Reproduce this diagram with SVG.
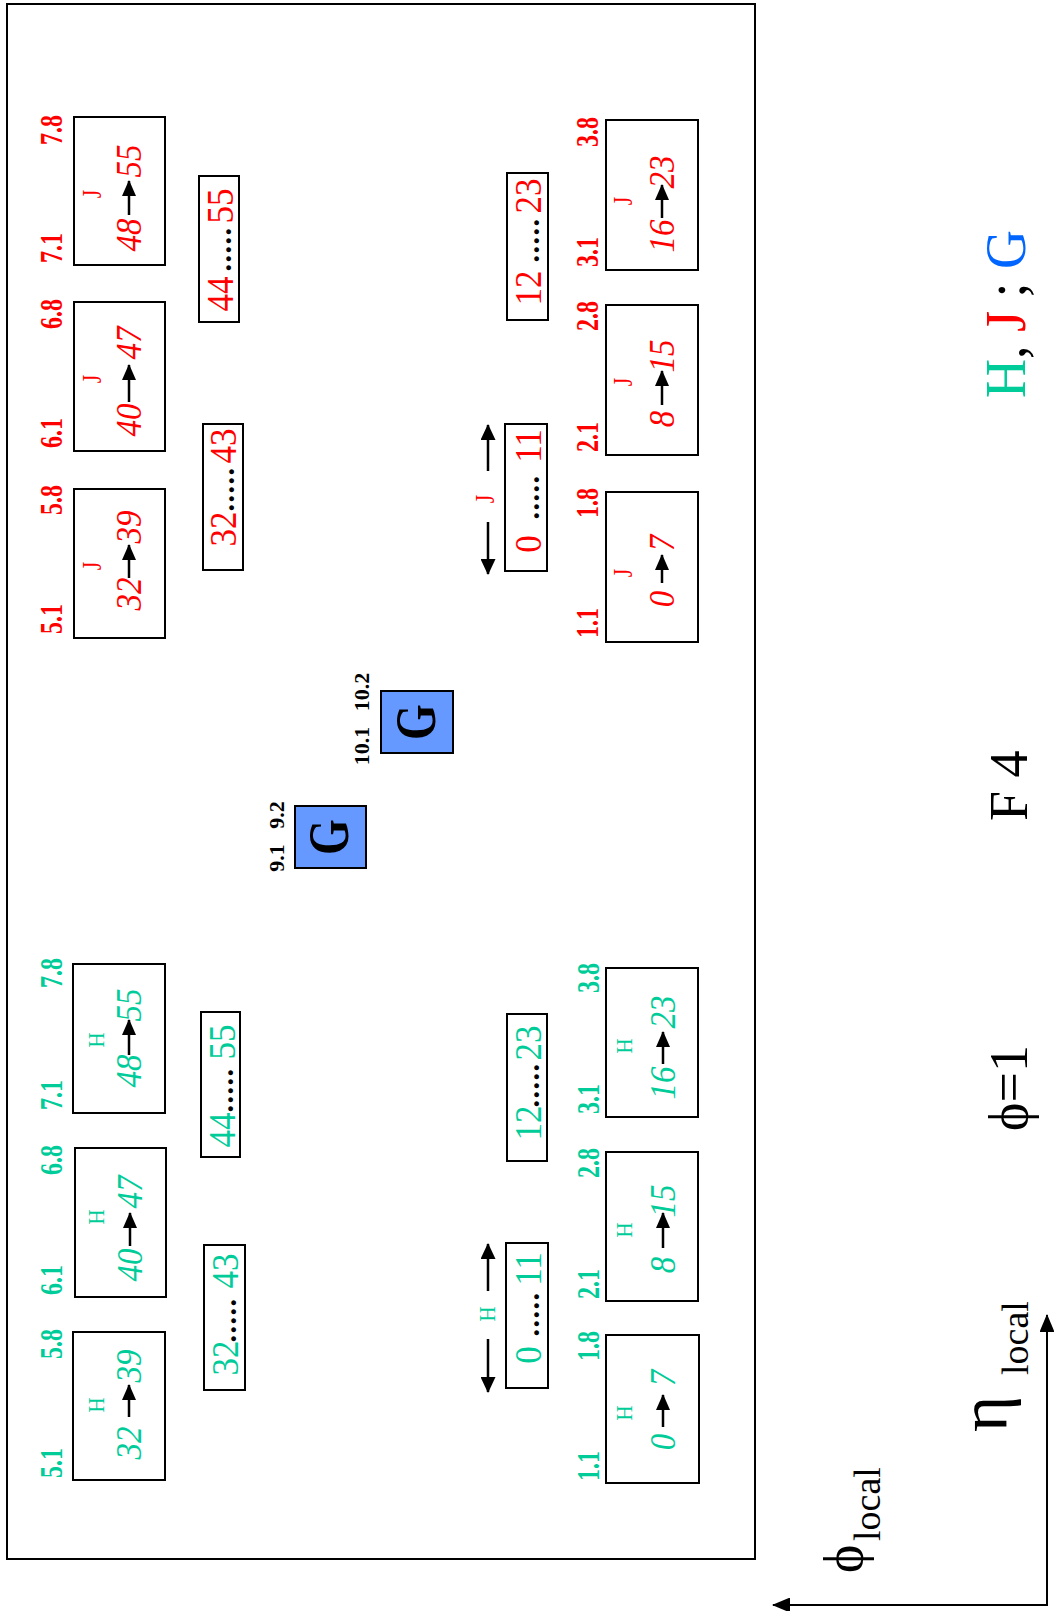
<svg xmlns="http://www.w3.org/2000/svg" width="1054" height="1611" viewBox="0 0 1054 1611">
<defs>
<style>
text { font-family: "Liberation Serif", "Times New Roman", serif; }
.r { fill: #ff0000; }
.g { fill: #00cc99; }
.k { fill: #000000; }
.lb { font-weight: bold; font-size: 24px; text-anchor: middle; }
.nm { font-style: italic; font-size: 33px; text-anchor: middle; }
.bg { font-size: 35px; text-anchor: middle; }
.dt { font-size: 30px; font-weight: bold; text-anchor: middle; fill: #000; letter-spacing: 1.5px; }
.tj { font-size: 22px; text-anchor: middle; }
.th { font-size: 21px; text-anchor: middle; }
.gl { font-size: 46px; font-weight: bold; text-anchor: middle; fill: #000; }
.gn { font-size: 22px; font-weight: bold; text-anchor: middle; fill: #000; }
.bx { fill: none; stroke: #000; stroke-width: 2; }
.gb { fill: #6699ff; stroke: #000; stroke-width: 2; }
.ar { stroke: #000; stroke-width: 2.5; fill: none; marker-end: url(#ah); }
.sa { stroke: #000; stroke-width: 2.5; fill: none; marker-end: url(#ah2); }
.ax { stroke: #000; stroke-width: 2; fill: none; marker-end: url(#ah3); }
.lg { font-size: 54px; }
</style>
<marker id="ah" markerUnits="userSpaceOnUse" markerWidth="16" markerHeight="14" refX="15" refY="7" orient="auto"><path d="M0,0 L16,7 L0,14 z" fill="#000"/></marker>
<marker id="ah2" markerUnits="userSpaceOnUse" markerWidth="16" markerHeight="15" refX="15" refY="7.5" orient="auto"><path d="M0,0 L16,7.5 L0,15 z" fill="#000"/></marker>
<marker id="ah3" markerUnits="userSpaceOnUse" markerWidth="18" markerHeight="15" refX="17" refY="7.5" orient="auto"><path d="M0,0 L18,7.5 L0,15 z" fill="#000"/></marker>
</defs>
<rect width="1054" height="1611" fill="#fff"/>
<rect id="frame" x="7" y="4" width="748" height="1555" class="bx"/>

<!-- Top-left J column -->
<g id="J48">
<rect x="74" y="117" width="91" height="148" class="bx"/>
<text class="lb r" transform="translate(62,130) rotate(-90) scale(1,1.3)">7.8</text>
<text class="lb r" transform="translate(62,248) rotate(-90) scale(1,1.3)">7.1</text>
<text class="tj r" transform="translate(101,194) rotate(-90) scale(1,1.2)">J</text>
<text class="nm r" transform="translate(141,235) rotate(-90) scale(1,1.1)">48</text>
<line x1="129" y1="215" x2="129" y2="181" class="ar"/>
<text class="nm r" transform="translate(141,161) rotate(-90) scale(1,1.1)">55</text>
</g>
<g id="J40">
<rect x="74" y="302" width="91" height="149" class="bx"/>
<text class="lb r" transform="translate(62,314) rotate(-90) scale(1,1.3)">6.8</text>
<text class="lb r" transform="translate(62,433) rotate(-90) scale(1,1.3)">6.1</text>
<text class="tj r" transform="translate(101,379) rotate(-90) scale(1,1.2)">J</text>
<text class="nm r" transform="translate(141,420) rotate(-90) scale(1,1.1)">40</text>
<line x1="129" y1="402" x2="129" y2="365" class="ar"/>
<text class="nm r" transform="translate(141,343) rotate(-90) scale(1,1.1)">47</text>
</g>
<g id="J32">
<rect x="74" y="489" width="91" height="149" class="bx"/>
<text class="lb r" transform="translate(62,500) rotate(-90) scale(1,1.3)">5.8</text>
<text class="lb r" transform="translate(62,619) rotate(-90) scale(1,1.3)">5.1</text>
<text class="tj r" transform="translate(101,566) rotate(-90) scale(1,1.2)">J</text>
<text class="nm r" transform="translate(141,594) rotate(-90) scale(1,1.1)">32</text>
<line x1="129" y1="578" x2="129" y2="545" class="ar"/>
<text class="nm r" transform="translate(141,527) rotate(-90) scale(1,1.1)">39</text>
</g>
<g id="J44-55">
<rect x="199" y="176" width="40" height="146" class="bx"/>
<text class="bg r" transform="translate(233,294) rotate(-90) scale(1,1.1)">44</text>
<text class="dt" transform="translate(231,249) rotate(-90)">.....</text>
<text class="bg r" transform="translate(233,206) rotate(-90) scale(1,1.1)">55</text>
</g>
<g id="J32-43">
<rect x="203" y="424" width="40" height="146" class="bx"/>
<text class="bg r" transform="translate(236,529) rotate(-90) scale(1,1.1)">32</text>
<text class="dt" transform="translate(234,489) rotate(-90)">.....</text>
<text class="bg r" transform="translate(236,446) rotate(-90) scale(1,1.1)">43</text>
</g>

<!-- Top-right J column -->
<g id="J16">
<rect x="606" y="120" width="92" height="150" class="bx"/>
<text class="lb r" transform="translate(598,132) rotate(-90) scale(1,1.3)">3.8</text>
<text class="lb r" transform="translate(598,252) rotate(-90) scale(1,1.3)">3.1</text>
<text class="tj r" transform="translate(632,201) rotate(-90) scale(1,1.2)">J</text>
<text class="nm r" transform="translate(674,236) rotate(-90) scale(1,1.1)">16</text>
<line x1="662" y1="218" x2="662" y2="185" class="ar"/>
<text class="nm r" transform="translate(674,172) rotate(-90) scale(1,1.1)">23</text>
</g>
<g id="J8">
<rect x="606" y="305" width="92" height="150" class="bx"/>
<text class="lb r" transform="translate(598,316) rotate(-90) scale(1,1.3)">2.8</text>
<text class="lb r" transform="translate(598,437) rotate(-90) scale(1,1.3)">2.1</text>
<text class="tj r" transform="translate(632,382) rotate(-90) scale(1,1.2)">J</text>
<text class="nm r" transform="translate(674,419) rotate(-90) scale(1,1.1)">8</text>
<line x1="662" y1="405" x2="662" y2="371" class="ar"/>
<text class="nm r" transform="translate(674,356) rotate(-90) scale(1,1.1)">15</text>
</g>
<g id="J0">
<rect x="606" y="492" width="92" height="150" class="bx"/>
<text class="lb r" transform="translate(598,503) rotate(-90) scale(1,1.3)">1.8</text>
<text class="lb r" transform="translate(598,623) rotate(-90) scale(1,1.3)">1.1</text>
<text class="tj r" transform="translate(632,573) rotate(-90) scale(1,1.2)">J</text>
<text class="nm r" transform="translate(674,599) rotate(-90) scale(1,1.1)">0</text>
<line x1="662" y1="583" x2="662" y2="555" class="ar"/>
<text class="nm r" transform="translate(674,543) rotate(-90) scale(1,1.1)">7</text>
</g>
<g id="J12-23">
<rect x="507" y="173" width="41" height="147" class="bx"/>
<text class="bg r" transform="translate(541,288) rotate(-90) scale(1,1.1)">12</text>
<text class="dt" transform="translate(539,240) rotate(-90)">.....</text>
<text class="bg r" transform="translate(541,196) rotate(-90) scale(1,1.1)">23</text>
</g>
<g id="J0-11">
<rect x="505" y="424" width="42" height="147" class="bx"/>
<text class="bg r" transform="translate(541,544) rotate(-90) scale(1,1.1)">0</text>
<text class="dt" transform="translate(539,497) rotate(-90)">.....</text>
<text class="bg r" transform="translate(541,446) rotate(-90) scale(1,1.1)">11</text>
<text class="tj r" transform="translate(494,499) rotate(-90) scale(1,1.2)">J</text>
</g>

<!-- G nodes -->
<g id="G9">
<rect x="295" y="806" width="71" height="62" class="gb"/>
<text class="gl" transform="translate(348,837) rotate(-90) scale(1,1.25)">G</text>
<text class="gn" transform="translate(284,858) rotate(-90)">9.1</text>
<text class="gn" transform="translate(284,815) rotate(-90)">9.2</text>
</g>
<g id="G10">
<rect x="381" y="691" width="72" height="62" class="gb"/>
<text class="gl" transform="translate(435,722) rotate(-90) scale(1,1.25)">G</text>
<text class="gn" transform="translate(369,746) rotate(-90)">10.1</text>
<text class="gn" transform="translate(369,692) rotate(-90)">10.2</text>
</g>

<!-- Bottom-left H column -->
<g id="H48">
<rect x="73" y="964" width="92" height="149" class="bx"/>
<text class="lb g" transform="translate(62,973) rotate(-90) scale(1,1.3)">7.8</text>
<text class="lb g" transform="translate(62,1095) rotate(-90) scale(1,1.3)">7.1</text>
<text class="th g" transform="translate(104,1040) rotate(-90) scale(1,1.1)">H</text>
<text class="nm g" transform="translate(141,1071) rotate(-90) scale(1,1.1)">48</text>
<line x1="129" y1="1055" x2="129" y2="1020" class="ar"/>
<text class="nm g" transform="translate(141,1005) rotate(-90) scale(1,1.1)">55</text>
</g>
<g id="H40">
<rect x="75" y="1148" width="91" height="149" class="bx"/>
<text class="lb g" transform="translate(62,1160) rotate(-90) scale(1,1.3)">6.8</text>
<text class="lb g" transform="translate(62,1280) rotate(-90) scale(1,1.3)">6.1</text>
<text class="th g" transform="translate(104,1217) rotate(-90) scale(1,1.1)">H</text>
<text class="nm g" transform="translate(142,1265) rotate(-90) scale(1,1.1)">40</text>
<line x1="130" y1="1246" x2="130" y2="1213" class="ar"/>
<text class="nm g" transform="translate(142,1192) rotate(-90) scale(1,1.1)">47</text>
</g>
<g id="H32">
<rect x="73" y="1332" width="92" height="148" class="bx"/>
<text class="lb g" transform="translate(62,1344) rotate(-90) scale(1,1.3)">5.8</text>
<text class="lb g" transform="translate(62,1463) rotate(-90) scale(1,1.3)">5.1</text>
<text class="th g" transform="translate(104,1405) rotate(-90) scale(1,1.1)">H</text>
<text class="nm g" transform="translate(141,1443) rotate(-90) scale(1,1.1)">32</text>
<line x1="129" y1="1417" x2="129" y2="1385" class="ar"/>
<text class="nm g" transform="translate(141,1366) rotate(-90) scale(1,1.1)">39</text>
</g>
<g id="H44-55">
<rect x="201" y="1012" width="39" height="145" class="bx"/>
<text class="bg g" transform="translate(235,1130) rotate(-90) scale(1,1.1)">44</text>
<text class="dt" transform="translate(233,1090) rotate(-90)">.....</text>
<text class="bg g" transform="translate(235,1042) rotate(-90) scale(1,1.1)">55</text>
</g>
<g id="H32-43">
<rect x="204" y="1245" width="41" height="145" class="bx"/>
<text class="bg g" transform="translate(238,1358) rotate(-90) scale(1,1.1)">32</text>
<text class="dt" transform="translate(236,1320) rotate(-90)">.....</text>
<text class="bg g" transform="translate(238,1271) rotate(-90) scale(1,1.1)">43</text>
</g>

<!-- Bottom-right H column -->
<g id="H16">
<rect x="606" y="968" width="92" height="149" class="bx"/>
<text class="lb g" transform="translate(599,978) rotate(-90) scale(1,1.3)">3.8</text>
<text class="lb g" transform="translate(599,1099) rotate(-90) scale(1,1.3)">3.1</text>
<text class="th g" transform="translate(632,1046) rotate(-90) scale(1,1.1)">H</text>
<text class="nm g" transform="translate(675,1083) rotate(-90) scale(1,1.1)">16</text>
<line x1="663" y1="1064" x2="663" y2="1032" class="ar"/>
<text class="nm g" transform="translate(675,1012) rotate(-90) scale(1,1.1)">23</text>
</g>
<g id="H8">
<rect x="606" y="1152" width="92" height="149" class="bx"/>
<text class="lb g" transform="translate(599,1163) rotate(-90) scale(1,1.3)">2.8</text>
<text class="lb g" transform="translate(599,1284) rotate(-90) scale(1,1.3)">2.1</text>
<text class="th g" transform="translate(632,1230) rotate(-90) scale(1,1.1)">H</text>
<text class="nm g" transform="translate(675,1265) rotate(-90) scale(1,1.1)">8</text>
<line x1="663" y1="1248" x2="663" y2="1213" class="ar"/>
<text class="nm g" transform="translate(675,1201) rotate(-90) scale(1,1.1)">15</text>
</g>
<g id="H0">
<rect x="606" y="1335" width="93" height="148" class="bx"/>
<text class="lb g" transform="translate(599,1346) rotate(-90) scale(1,1.3)">1.8</text>
<text class="lb g" transform="translate(599,1466) rotate(-90) scale(1,1.3)">1.1</text>
<text class="th g" transform="translate(632,1413) rotate(-90) scale(1,1.1)">H</text>
<text class="nm g" transform="translate(675,1442) rotate(-90) scale(1,1.1)">0</text>
<line x1="663" y1="1427" x2="663" y2="1395" class="ar"/>
<text class="nm g" transform="translate(675,1378) rotate(-90) scale(1,1.1)">7</text>
</g>
<g id="H12-23">
<rect x="507" y="1014" width="40" height="147" class="bx"/>
<text class="bg g" transform="translate(541,1123) rotate(-90) scale(1,1.1)">12</text>
<text class="dt" transform="translate(539,1085) rotate(-90)">.....</text>
<text class="bg g" transform="translate(541,1043) rotate(-90) scale(1,1.1)">23</text>
</g>
<g id="H0-11">
<rect x="506" y="1243" width="42" height="145" class="bx"/>
<text class="bg g" transform="translate(541,1355) rotate(-90) scale(1,1.1)">0</text>
<text class="dt" transform="translate(539,1314) rotate(-90)">.....</text>
<text class="bg g" transform="translate(541,1269) rotate(-90) scale(1,1.1)">11</text>
<text class="th g" transform="translate(495,1314) rotate(-90) scale(1,1.1)">H</text>
</g>

<!-- Legend and axis labels -->
<g id="legend">
<text class="lg" transform="translate(1025,398) rotate(-90) scale(1,1.05)"><tspan class="g">H</tspan><tspan class="k">, </tspan><tspan class="r">J</tspan><tspan class="k"> ; </tspan><tspan fill="#0066ff">G</tspan></text>
<text class="lg k" transform="translate(1027,821) rotate(-90)">F 4</text>
<text class="lg k" transform="translate(1027,1131) rotate(-90)">ϕ=1</text>
<text class="k" font-size="58" transform="translate(1007,1432) rotate(-90) scale(1.2,1.15)">η</text>
<text class="k" font-size="38" transform="translate(1028,1375) rotate(-90)">local</text>
<text class="k" font-size="54" transform="translate(862,1573) rotate(-90)">ϕ</text>
<text class="k" font-size="38" transform="translate(880,1541) rotate(-90)">local</text>
</g>

<g id="connectors">
<line x1="488" y1="471" x2="488" y2="425" class="sa"/>
<line x1="488" y1="522" x2="488" y2="574" class="sa"/>
<line x1="488" y1="1291" x2="488" y2="1244" class="sa"/>
<line x1="488" y1="1339" x2="488" y2="1392" class="sa"/>
<polyline points="1047,1605 1047,1315" class="ax"/>
<polyline points="1047,1606 1047,1605 773,1605" class="ax"/>
</g>
</svg>
